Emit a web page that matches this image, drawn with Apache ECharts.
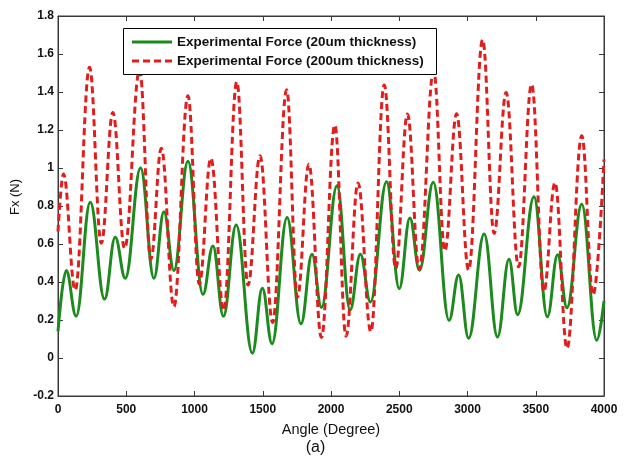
<!DOCTYPE html>
<html>
<head>
<meta charset="utf-8">
<script src="https://cdn.jsdelivr.net/npm/echarts@6/dist/echarts.min.js"></script>
<style>
  html, body { margin: 0; padding: 0; background: #fff; }
  #chart { width: 631px; height: 460px; }
</style>
</head>
<body>
<div id="chart"></div>
<script>
// Force Fx versus rotation angle, sampled at the turning points of each trace
const thinAngles = [0, 60, 133, 236, 341, 419, 493, 605, 703, 776,
  849, 952, 1062, 1135, 1212, 1305, 1424, 1497, 1568, 1678,
  1780, 1861, 1930, 2044, 2140, 2215, 2289, 2407, 2500, 2578,
  2648, 2749, 2865, 2935, 3008, 3122, 3220, 3304, 3367, 3487,
  3585, 3660, 3729, 3837, 3947, 4000];
const thinForce = [0.14, 0.46, 0.22, 0.82, 0.31, 0.635, 0.42, 1.0, 0.42, 0.77,
  0.46, 1.035, 0.335, 0.59, 0.22, 0.70, 0.025, 0.367, 0.075, 0.74,
  0.18, 0.546, 0.266, 0.907, 0.253, 0.546, 0.295, 0.928, 0.365, 0.737,
  0.462, 0.925, 0.198, 0.437, 0.104, 0.652, 0.11, 0.52, 0.228, 0.849,
  0.217, 0.543, 0.265, 0.809, 0.093, 0.30];

const thickAngles = [0, 40, 126, 231, 317, 402, 488, 598, 680, 757,
  849, 952, 1035, 1120, 1214, 1310, 1392, 1480, 1572, 1675,
  1754, 1838, 1930, 2028, 2110, 2198, 2292, 2390, 2474, 2560,
  2646, 2752, 2834, 2920, 3008, 3111, 3195, 3283, 3374, 3470,
  3559, 3641, 3729, 3837, 3920, 4000];
const thickForce = [0.665, 0.968, 0.358, 1.53, 0.604, 1.292, 0.577, 1.516, 0.52, 1.104,
  0.27, 1.38, 0.39, 1.051, 0.25, 1.454, 0.384, 1.064, 0.187, 1.412,
  0.32, 1.02, 0.108, 1.226, 0.115, 0.921, 0.138, 1.437, 0.472, 1.284,
  0.467, 1.512, 0.564, 1.285, 0.463, 1.675, 0.656, 1.397, 0.48, 1.441,
  0.35, 0.923, 0.051, 1.17, 0.332, 1.045];

const seriesNames = ['Experimental Force (20um thickness)', 'Experimental Force (200um thickness)'];
const xTitle = 'Angle (Degree)';
const yTitle = 'Fx (N)';
const panelTag = '(a)';

const pairs = (xs, ys) => xs.map((x, i) => [x, ys[i]]);

const FONT = '"Liberation Sans", Arial, sans-serif';
const AXIS_COLOR = '#3a3a3a';
const GREEN = '#1d8a1d';
const RED = '#e01e1e';
const RED_DASH = [7, 4];

const tickStyle = { inside: true, length: 5, lineStyle: { color: AXIS_COLOR } };
const labelStyle = { color: '#111', fontFamily: FONT, fontWeight: 'bold', fontSize: 12 };
const edgeLine = { show: true, onZero: false, lineStyle: { color: AXIS_COLOR } };

// Boxed key in the upper left of the plot
const KEY = { x: 123, y: 28, w: 313, h: 46, lineX0: 132, lineX1: 172, textX: 177, rows: [42, 61] };
const keyStyles = [
  { stroke: GREEN, lineWidth: 3 },
  { stroke: RED, lineWidth: 3, lineDash: RED_DASH }
];
const keyGraphics = [{
  type: 'rect', z: 50,
  shape: { x: KEY.x + 0.5, y: KEY.y + 0.5, width: KEY.w, height: KEY.h },
  style: { fill: '#fff', stroke: '#000', lineWidth: 1 }
}];
seriesNames.forEach((name, i) => {
  keyGraphics.push({
    type: 'line', z: 51,
    shape: { x1: KEY.lineX0, y1: KEY.rows[i], x2: KEY.lineX1, y2: KEY.rows[i] },
    style: keyStyles[i]
  });
  keyGraphics.push({
    type: 'text', z: 51, x: KEY.textX, y: KEY.rows[i],
    style: { text: name, font: 'bold 13.5px ' + FONT, fill: '#111', verticalAlign: 'middle' }
  });
});

// Vertical axis title, turned a quarter turn
const yTitleGraphic = {
  type: 'text', x: 15, y: 197, rotation: Math.PI / 2,
  style: { text: yTitle, font: '13px ' + FONT, fill: '#111', align: 'center', verticalAlign: 'middle' }
};

const chart = echarts.init(document.getElementById('chart'), null, { renderer: 'canvas' });
chart.setOption({
  animation: false,
  backgroundColor: '#fff',
  grid: { left: 58, right: 27, top: 16, bottom: 64, show: true, borderColor: AXIS_COLOR, borderWidth: 1 },
  xAxis: [{
    type: 'value', min: 0, max: 4000, interval: 500,
    name: xTitle, nameLocation: 'middle', nameGap: 26,
    nameTextStyle: { fontFamily: FONT, fontSize: 14.5, color: '#111' },
    axisLine: edgeLine,
    axisTick: tickStyle,
    axisLabel: Object.assign({ margin: 8, formatter: v => String(v) }, labelStyle),
    splitLine: { show: false }
  }, {
    type: 'value', position: 'top', min: 0, max: 4000, interval: 500,
    axisLine: edgeLine,
    axisTick: tickStyle, axisLabel: { show: false }, splitLine: { show: false }
  }],
  yAxis: [{
    type: 'value', min: -0.2, max: 1.8, interval: 0.2,
    axisLine: edgeLine,
    axisTick: tickStyle,
    axisLabel: Object.assign({ margin: 4, formatter: v => String(+v.toFixed(1)) }, labelStyle),
    splitLine: { show: false }
  }, {
    type: 'value', position: 'right', min: -0.2, max: 1.8, interval: 0.2,
    axisLine: edgeLine,
    axisTick: tickStyle, axisLabel: { show: false }, splitLine: { show: false }
  }],
  graphic: keyGraphics.concat([yTitleGraphic, {
    type: 'text', left: 'center', top: 440,
    style: { text: panelTag, font: '16px ' + FONT, fill: '#111' }
  }]),
  series: [{
    name: seriesNames[0], type: 'line',
    data: pairs(thinAngles, thinForce),
    smooth: 0.4, smoothMonotone: 'x',
    symbol: 'none', showSymbol: false,
    lineStyle: { color: GREEN, width: 3 },
    itemStyle: { color: GREEN }
  }, {
    name: seriesNames[1], type: 'line',
    data: pairs(thickAngles, thickForce),
    smooth: 0.4, smoothMonotone: 'x',
    symbol: 'none', showSymbol: false,
    lineStyle: { color: RED, width: 3, type: RED_DASH },
    itemStyle: { color: RED }
  }]
});
</script>
</body>
</html>
